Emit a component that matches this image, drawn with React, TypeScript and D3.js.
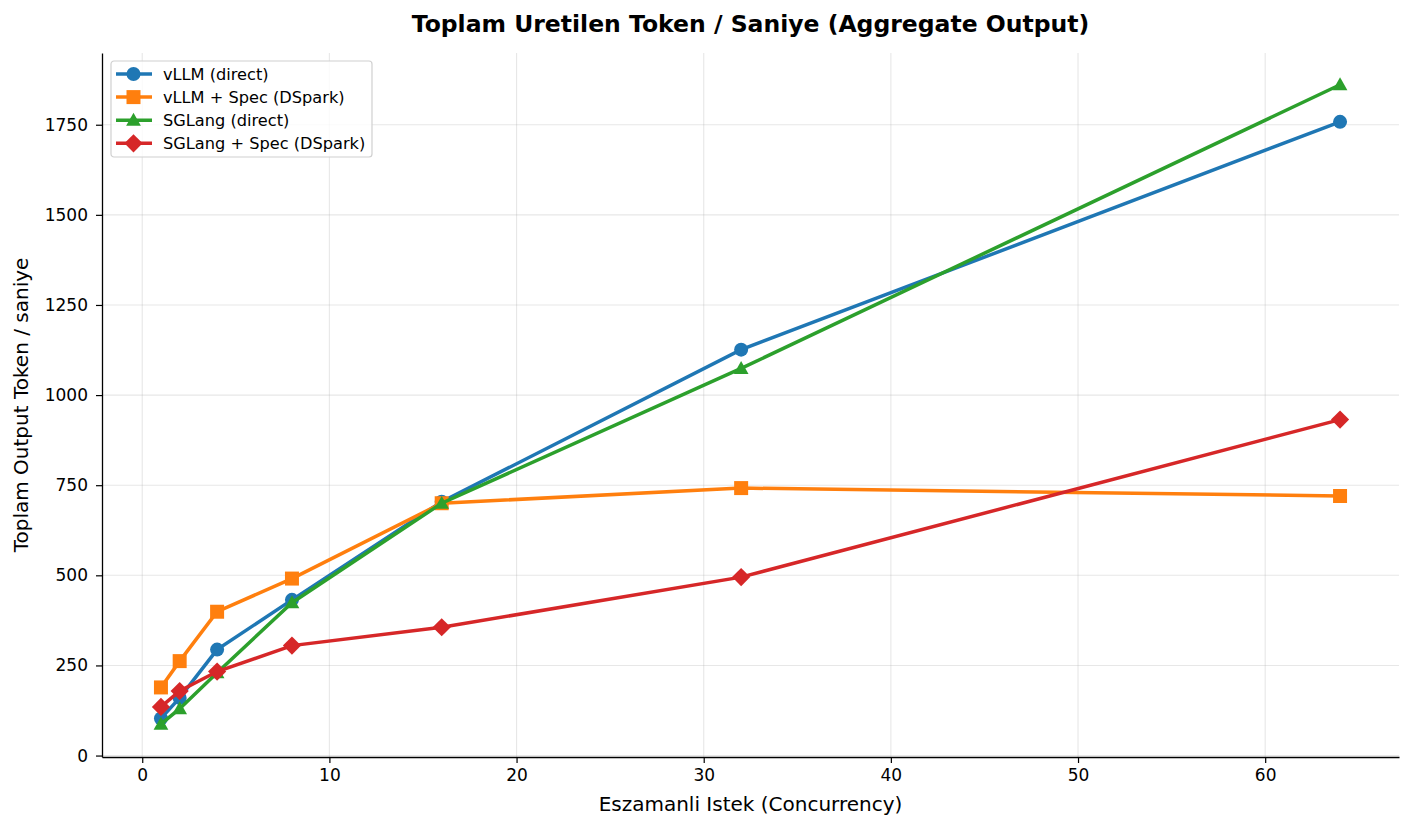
import * as d3 from "d3";
import { useRef, useEffect } from "react";

const concurrency = [1, 2, 4, 8, 16, 32, 64];
const vllmDirect = [103, 160, 294, 432, 704, 1126, 1758];
const vllmSpec = [189, 262, 399, 491, 700, 742, 720];
const sglangDirect = [87, 130, 230, 424, 700, 1074, 1861];
const sglangSpec = [135, 179, 233, 305, 356, 495, 932];

const seriesNames = [
  "vLLM (direct)",
  "vLLM + Spec (DSpark)",
  "SGLang (direct)",
  "SGLang + Spec (DSpark)",
];
const seriesColors = ["#1f77b4", "#ff7f0e", "#2ca02c", "#d62728"];
const seriesMarkers = ["circle", "square", "triangle", "diamond"];
const xTicks = [0, 10, 20, 30, 40, 50, 60];
const yTicks = [0, 250, 500, 750, 1000, 1250, 1500, 1750];

const FONT = "DejaVu Sans, sans-serif";

const markerPath = (kind, size) => {
  const s = size / 2;
  if (kind === "circle") return d3.symbol(d3.symbolCircle, Math.PI * s * s)();
  if (kind === "square") return `M${-s},${-s}H${s}V${s}H${-s}Z`;
  if (kind === "triangle") {
    const r = s * 1.05;
    return `M0,${-r}L${r},${r * 0.75}L${-r},${r * 0.75}Z`;
  }
  const r = s * 1.3;
  return `M0,${-r}L${r},0L0,${r}L${-r},0Z`;
};

export default function App() {
  const ref = useRef();

  useEffect(() => {
    const width = 1413;
    const height = 828;
    const m = { left: 102, right: 1399, top: 53, bottom: 757 };

    const svg = d3.select(ref.current);
    svg.selectAll("*").remove();
    svg.attr("width", width).attr("height", height).style("font-family", FONT);

    svg.append("rect").attr("width", width).attr("height", height).attr("fill", "white");

    const x = d3.scaleLinear().domain([-2.15, 67.15]).range([m.left, m.right]);
    const y = d3.scaleLinear().domain([-4, 1949]).range([m.bottom, m.top]);

    // grid
    const grid = svg.append("g");
    xTicks.forEach((t) => {
      grid
        .append("line")
        .attr("x1", x(t))
        .attr("x2", x(t))
        .attr("y1", m.top)
        .attr("y2", m.bottom)
        .attr("stroke", "#b0b0b0")
        .attr("stroke-opacity", 0.3)
        .attr("stroke-width", 1.1);
    });
    yTicks.forEach((t) => {
      grid
        .append("line")
        .attr("x1", m.left)
        .attr("x2", m.right)
        .attr("y1", y(t))
        .attr("y2", y(t))
        .attr("stroke", "#b0b0b0")
        .attr("stroke-opacity", 0.3)
        .attr("stroke-width", 1.1);
    });

    // axes
    const fmt = d3.format("d");
    const xAxis = svg
      .append("g")
      .attr("transform", `translate(0,${m.bottom})`)
      .call(d3.axisBottom(x).tickValues(xTicks).tickFormat(fmt).tickSize(6).tickSizeOuter(0).tickPadding(6));
    const yAxis = svg
      .append("g")
      .attr("transform", `translate(${m.left},0)`)
      .call(d3.axisLeft(y).tickValues(yTicks).tickFormat(fmt).tickSize(6).tickSizeOuter(0).tickPadding(8));
    [xAxis, yAxis].forEach((a) => {
      a.selectAll("text").attr("font-size", 17).attr("font-family", FONT).attr("fill", "#000");
      a.selectAll("line").attr("stroke", "#000").attr("stroke-width", 1.2);
      a.select(".domain").attr("stroke", "#000").attr("stroke-width", 1.3);
    });

    // series
    const allSeries = [vllmDirect, vllmSpec, sglangDirect, sglangSpec];
    const line = d3
      .line()
      .x((d) => x(d[0]))
      .y((d) => y(d[1]));

    allSeries.forEach((vals, i) => {
      const pts = concurrency.map((c, j) => [c, vals[j]]);
      const g = svg.append("g");
      g.append("path")
        .attr("d", line(pts))
        .attr("fill", "none")
        .attr("stroke", seriesColors[i])
        .attr("stroke-width", 3.5);
      g.selectAll("path.mk")
        .data(pts)
        .enter()
        .append("path")
        .attr("class", "mk")
        .attr("d", markerPath(seriesMarkers[i], 14))
        .attr("transform", (d) => `translate(${x(d[0])},${y(d[1])})`)
        .attr("fill", seriesColors[i]);
    });

    // title and labels
    svg
      .append("text")
      .attr("x", (m.left + m.right) / 2)
      .attr("y", 32)
      .attr("text-anchor", "middle")
      .attr("font-size", 23.5)
      .attr("font-weight", "bold")
      .text("Toplam Uretilen Token / Saniye (Aggregate Output)");
    svg
      .append("text")
      .attr("x", (m.left + m.right) / 2)
      .attr("y", 811)
      .attr("text-anchor", "middle")
      .attr("font-size", 20)
      .text("Eszamanli Istek (Concurrency)");
    svg
      .append("text")
      .attr("transform", `translate(28,${(m.top + m.bottom) / 2}) rotate(-90)`)
      .attr("text-anchor", "middle")
      .attr("font-size", 20)
      .text("Toplam Output Token / saniye");

    // legend
    const lg = svg.append("g").attr("transform", `translate(111,61)`);
    lg.append("rect")
      .attr("width", 261)
      .attr("height", 96)
      .attr("rx", 3)
      .attr("fill", "white")
      .attr("fill-opacity", 0.8)
      .attr("stroke", "#d0d0d0")
      .attr("stroke-width", 1.2);
    seriesNames.forEach((name, i) => {
      const yy = 13 + i * 23.1;
      lg.append("line")
        .attr("x1", 5)
        .attr("x2", 41)
        .attr("y1", yy)
        .attr("y2", yy)
        .attr("stroke", seriesColors[i])
        .attr("stroke-width", 3.5);
      lg.append("path")
        .attr("d", markerPath(seriesMarkers[i], 14))
        .attr("transform", `translate(22.5,${yy})`)
        .attr("fill", seriesColors[i]);
      lg.append("text")
        .attr("x", 52)
        .attr("y", yy + 5.5)
        .attr("font-size", 16.2)
        .text(name);
    });
  }, []);

  return <svg ref={ref} style={{ display: "block", position: "absolute", left: 0, top: 0 }}></svg>;
}
